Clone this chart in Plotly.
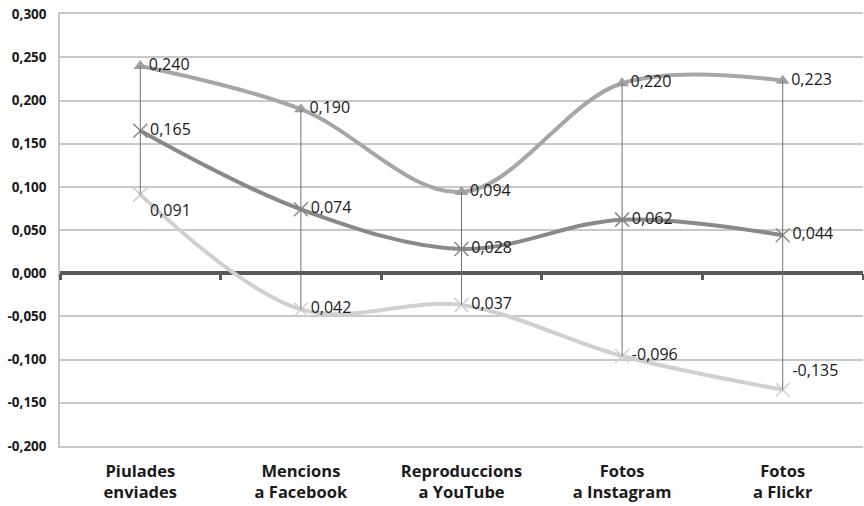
import plotly.graph_objects as go

categories = ["Piulades<br>enviades", "Mencions<br>a Facebook", "Reproduccions<br>a YouTube",
              "Fotos<br>a Instagram", "Fotos<br>a Flickr"]
top_vals = [0.240, 0.190, 0.094, 0.220, 0.223]
mid_vals = [0.165, 0.074, 0.028, 0.062, 0.044]
low_vals = [0.091, -0.042, -0.037, -0.096, -0.135]
low_labels = ["0,091", "0,042", "0,037", "-0,096", "-0,135"]
y_ticks = [0.300, 0.250, 0.200, 0.150, 0.100, 0.050, 0.000, -0.050, -0.100, -0.150, -0.200]


def fmt(v):
    return f"{v:.3f}".replace(".", ",")


xs = list(range(len(categories)))
ymin, ymax = -0.2002, 0.3002

fig = go.Figure()

# high-low drop lines
dx, dy = [], []
for i in xs:
    vals = [top_vals[i], mid_vals[i], low_vals[i]]
    dx += [i, i, None]
    dy += [max(vals), min(vals), None]
fig.add_trace(go.Scatter(x=dx, y=dy, mode="lines", line=dict(color="#6f6f6f", width=1),
                         hoverinfo="skip", showlegend=False, xaxis="x2"))

label_font = dict(family="Open Sans, sans-serif", size=16, color="#1a1a1a")

fig.add_trace(go.Scatter(
    x=xs, y=low_vals, mode="lines+markers+text", line=dict(color="#d0d0d0", width=4, shape="spline", smoothing=1),
    marker=dict(symbol="x-thin-open", size=14, line=dict(color="#c4c4c4", width=1.5)),
    text=low_labels, textposition=["bottom right", "middle right", "middle right", "middle right", "top right"],
    textfont=label_font, showlegend=False, cliponaxis=False))

fig.add_trace(go.Scatter(
    x=xs, y=mid_vals, mode="lines+markers+text", line=dict(color="#898989", width=4, shape="spline", smoothing=1),
    marker=dict(symbol="x-thin-open", size=14, line=dict(color="#7a7a7a", width=1.5)),
    text=[fmt(v) for v in mid_vals], textposition="middle right",
    textfont=label_font, showlegend=False, cliponaxis=False))

fig.add_trace(go.Scatter(
    x=xs, y=top_vals, mode="lines+markers+text", line=dict(color="#a6a6a6", width=4, shape="spline", smoothing=1),
    marker=dict(symbol="triangle-up", size=12, color="#a0a0a0"),
    text=[fmt(v) for v in top_vals], textposition="middle right",
    textfont=label_font, showlegend=False, cliponaxis=False))

fig.update_layout(
    width=864, height=506,
    margin=dict(l=60, r=1, t=14, b=60),
    paper_bgcolor="white", plot_bgcolor="white",
    font=dict(family="Open Sans, sans-serif", color="#1a1a1a"),
    xaxis=dict(range=[-0.5, len(categories) - 0.5], tickvals=xs, ticktext=categories,
               showgrid=False, zeroline=False, showline=True, mirror=True,
               linecolor="#c8c8c8", linewidth=1.5, ticks="",
               ticklabelstandoff=9, automargin=False,
               tickfont=dict(family="Open Sans, sans-serif", size=16.5, color="#1a1a1a", weight="bold")),
    xaxis2=dict(range=[-0.5, len(categories) - 0.5], overlaying="x", anchor="free",
                position=(0 - ymin) / (ymax - ymin), side="bottom",
                tickvals=[i - 0.5 for i in range(len(categories) + 1)], showticklabels=False,
                ticks="outside", ticklen=6, tickwidth=3, tickcolor="#595959",
                showgrid=False, zeroline=False, showline=False),
    yaxis=dict(range=[ymin, ymax], tickvals=y_ticks, ticktext=[fmt(v) for v in y_ticks],
               showgrid=True, gridcolor="#c8c8c8", gridwidth=1.5,
               showline=True, linecolor="#c8c8c8", linewidth=1.5,
               zeroline=True, zerolinecolor="#595959", zerolinewidth=3.5,
               ticks="", ticklabelstandoff=9, automargin=False,
               tickfont=dict(family="Open Sans, sans-serif", size=13.5, color="#1a1a1a", weight="bold")),
)

fig.write_html("out.html", config={"displayModeBar": False},
               post_script="document.body.style.margin='0';document.body.style.overflow='hidden';")
